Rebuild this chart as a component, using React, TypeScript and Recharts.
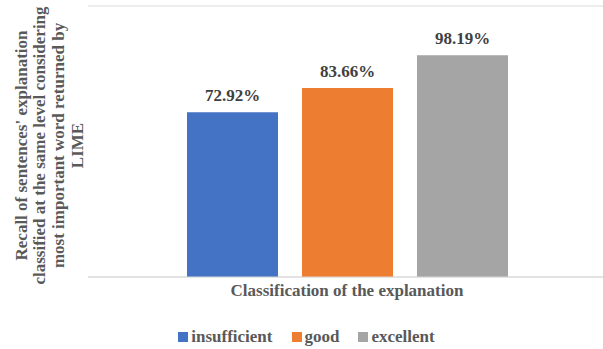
import { BarChart, Bar, XAxis, YAxis, CartesianGrid, Legend, LabelList } from 'recharts'

const categories = ['']
const seriesNames = ['insufficient', 'good', 'excellent']
const seriesValues = [72.92, 83.66, 98.19]
const seriesColors = ['#4472C4', '#ED7D31', '#A5A5A5']
const yTicks = [0, 20, 40, 60, 80, 100, 120]
const yTitleLines = [
  "Recall of sentences' explanation",
  'classified at the same level considering',
  'most important word returned by',
  'LIME',
]
const xTitle = 'Classification of the explanation'

const FONT = '"Liberation Serif", "Times New Roman", serif'

const chartData = categories.map((category) => {
  const row: Record<string, string | number> = { category }
  seriesNames.forEach((name, i) => {
    row[name] = seriesValues[i]
  })
  return row
})

function YTitle({ viewBox }: { viewBox?: { x: number; y: number; width: number; height: number } }) {
  if (!viewBox) return null
  const cy = viewBox.y + viewBox.height / 2 + 4
  return (
    <g>
      {yTitleLines.map((line, i) => {
        const x = viewBox.x + 21 + i * 18.7
        return (
          <text
            key={line}
            x={x}
            y={cy}
            transform={`rotate(-90, ${x}, ${cy})`}
            textAnchor="middle"
            dominantBaseline="central"
            fontFamily={FONT}
            fontWeight="bold"
            fontSize={17}
            fill="#595959"
          >
            {line}
          </text>
        )
      })}
    </g>
  )
}

function XTitle({ viewBox }: { viewBox?: { x: number; y: number; width: number; height: number } }) {
  if (!viewBox) return null
  return (
    <text
      x={viewBox.x + viewBox.width / 2}
      y={viewBox.y + 19}
      textAnchor="middle"
      fontFamily={FONT}
      fontWeight="bold"
      fontSize={17}
      fill="#595959"
    >
      {xTitle}
    </text>
  )
}

function LegendContent() {
  return (
    <div
      style={{
        display: 'flex',
        justifyContent: 'center',
        alignItems: 'center',
        height: 20,
        paddingLeft: 7,
        fontFamily: FONT,
        fontWeight: 'bold',
        fontSize: 17,
        color: '#595959',
      }}
    >
      {seriesNames.map((name, i) => (
        <div key={name} style={{ display: 'flex', alignItems: 'center', marginRight: i < seriesNames.length - 1 ? 19 : 0 }}>
          <span style={{ width: 10, height: 10, background: seriesColors[i], marginRight: 3, display: 'inline-block' }} />
          <span>{name}</span>
        </div>
      ))}
    </div>
  )
}

export default function App() {
  return (
    <div style={{ position: 'absolute', left: 0, top: 0, width: 603, height: 349, overflow: 'hidden', background: '#fff' }}>
      <BarChart
        width={606}
        height={349}
        data={chartData}
        margin={{ top: 6, right: 0, left: 0, bottom: 2 }}
        barGap={24}
      >
        <CartesianGrid vertical={false} stroke="#D9D9D9" />
        <XAxis
          dataKey="category"
          tick={false}
          tickLine={false}
          axisLine={{ stroke: '#D9D9D9' }}
          height={50}
          label={<XTitle />}
        />
        <YAxis
          domain={[0, 120]}
          ticks={yTicks}
          tick={false}
          tickLine={false}
          axisLine={false}
          width={88}
          label={<YTitle />}
        />
        <Legend verticalAlign="bottom" content={<LegendContent />} />
        {seriesNames.map((name, i) => (
          <Bar key={name} dataKey={name} fill={seriesColors[i]} barSize={91} isAnimationActive={false}>
            <LabelList
              dataKey={name}
              position="top"
              offset={11}
              formatter={(v: number) => `${v.toFixed(2)}%`}
              style={{ fontFamily: FONT, fontWeight: 'bold', fontSize: 17, fill: '#404040' }}
            />
          </Bar>
        ))}
      </BarChart>
    </div>
  )
}
